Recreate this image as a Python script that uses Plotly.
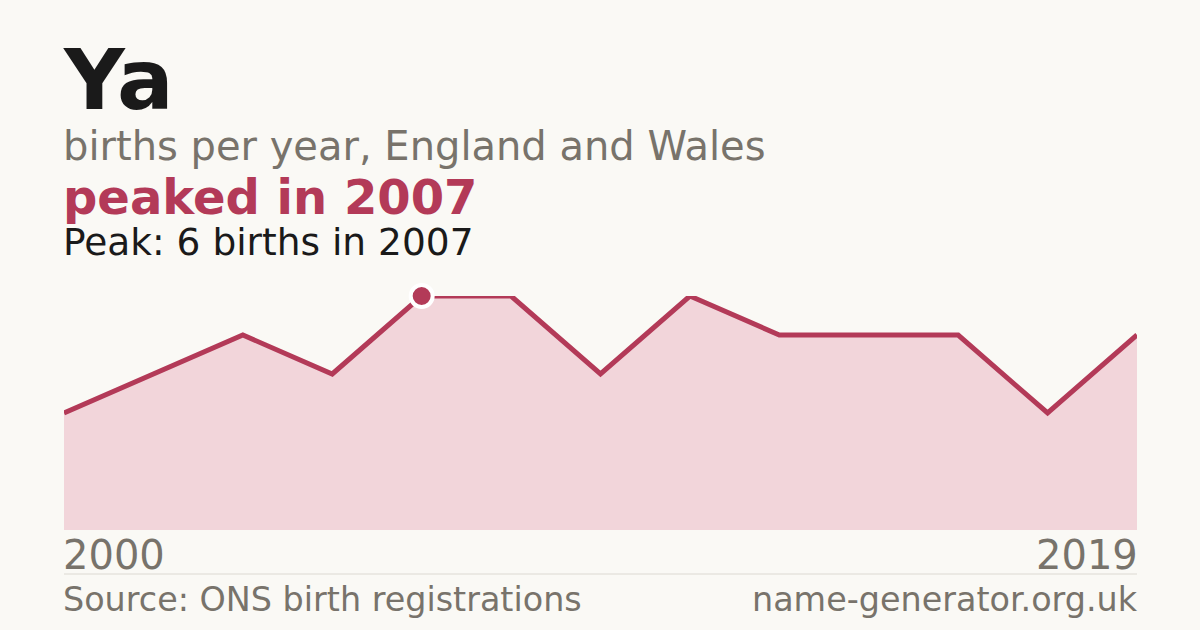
import plotly.graph_objects as go

# ---------------------------
# Data (years with recorded births, count per year)
# ---------------------------
years = ["2000", "2002", "2004", "2005", "2007", "2009", "2010",
         "2012", "2013", "2015", "2016", "2018", "2019"]
births = [3, 4, 5, 4, 6, 6, 4, 6, 5, 5, 5, 3, 5]

peak_idx = births.index(max(births))
peak_year = years[peak_idx]
peak_val = births[peak_idx]

BG = "#faf9f5"
CRIMSON = "#b33a58"
FILL = "#f2d5da"
GREY = "#78736b"
DARK = "#1a1a1a"
FONT = "DejaVu Sans"

W, H = 1200, 630
M_T, M_B, M_L, M_R = 296, 100, 64, 63


def py(px):
    # pixel row -> paper y coordinate
    return (H - M_B - px) / (H - M_T - M_B)


fig = go.Figure()

fig.add_trace(go.Scatter(
    x=years, y=births, mode="lines",
    line=dict(color=CRIMSON, width=5),
    fill="tozeroy", fillcolor=FILL,
    hoverinfo="x+y", showlegend=False,
))

fig.add_trace(go.Scatter(
    x=[peak_year], y=[peak_val], mode="markers",
    marker=dict(color=CRIMSON, size=22, line=dict(color="white", width=4)),
    cliponaxis=False, showlegend=False, hoverinfo="x+y",
))

# ---------------------------
# Text
# ---------------------------
texts = [
    ("Ya", 80, 84, DARK, True, "left", 0),
    ("births per year, England and Wales", 146, 40, GREY, False, "left", 0),
    (f"peaked in {peak_year}", 197, 48, CRIMSON, True, "left", 0),
    (f"Peak: {peak_val} births in {peak_year}", 242, 37.5, DARK, False, "left", 0),
    (years[0], 555, 40, GREY, False, "left", 0),
    (years[-1], 555, 40, GREY, False, "right", 1),
    ("Source: ONS birth registrations", 599, 33.4, GREY, False, "left", 0),
    ("name-generator.org.uk", 599, 33.4, GREY, False, "right", 1),
]
for txt, ypx, size, color, bold, anchor, xp in texts:
    fig.add_annotation(
        text=f"<b>{txt}</b>" if bold else txt,
        xref="paper", yref="paper", x=xp, y=py(ypx),
        xanchor=anchor, yanchor="middle", showarrow=False,
        xshift=-3 if anchor == "left" else 3,
        font=dict(family=FONT, size=size, color=color),
    )

fig.add_shape(type="line", xref="paper", yref="paper",
              x0=0, x1=1, y0=py(574), y1=py(574),
              line=dict(color="#dcd9d2", width=1))

fig.update_xaxes(type="category", range=[0, len(years) - 1], visible=False)
fig.update_yaxes(range=[0, max(births)], visible=False)

fig.update_layout(
    width=W, height=H,
    margin=dict(t=M_T, b=M_B, l=M_L, r=M_R),
    paper_bgcolor=BG, plot_bgcolor=BG,
)

# drop the page's default body margin so the figure fills the window
fig.write_html("out.html", config={"displayModeBar": False},
               post_script="document.body.style.margin='0';")
